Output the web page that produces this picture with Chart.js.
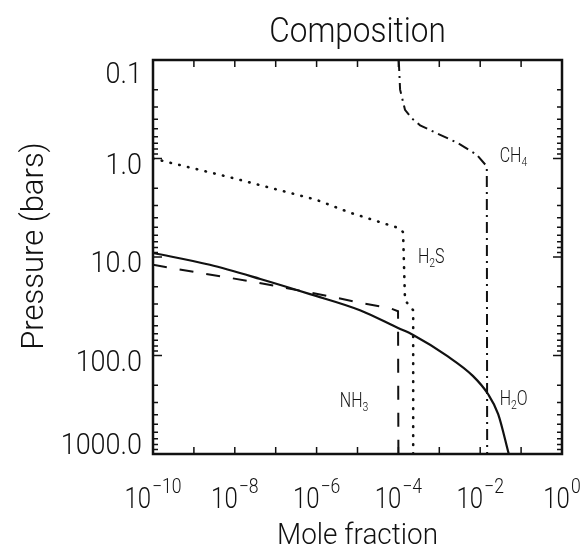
<!DOCTYPE html>
<html>
<head>
<meta charset="utf-8">
<script src="https://cdn.jsdelivr.net/npm/chart.js@4/dist/chart.umd.min.js"></script>
<style>
  html, body { margin: 0; padding: 0; background: #fff; }
  #chart { display: block; }
</style>
</head>
<body>
<canvas id="chart" width="581" height="551"></canvas>
<script>
// --- Data (mole fraction vs pressure in bars) ---
const h2oX = [1e-10, 2.45e-9, 4.2e-8, 6.9e-7, 1.15e-5, 9.8e-5, 2.3e-4, 1.55e-3, 6.6e-3, 1.55e-2, 2.75e-2, 5.0e-2];
const h2oP = [9.1, 12.0, 16.7, 23.8, 34.7, 52.6, 61.9, 101, 161, 246, 393, 1000];

const nh3X = [1e-10, 1.4e-9, 2.75e-8, 2.1e-6, 9.8e-6, 6.2e-5, 9.8e-5, 1.0e-4];
const nh3P = [12.0, 14.5, 17.8, 25.1, 28.8, 33.1, 35.5, 1000];

const h2sX = [1e-10, 9.1e-9, 1.0e-6, 6.6e-6, 1.1e-4, 1.3e-4, 1.45e-4, 2.3e-4, 2.3e-4];
const h2sP = [1.0, 1.58, 2.63, 3.55, 5.13, 5.6, 27.5, 34.7, 1000];

const ch4X = [1.02e-4, 1.1e-4, 1.45e-4, 2.1e-4, 3.4e-4, 1.05e-3, 2.7e-3, 8.1e-3, 1.45e-2, 1.48e-2];
const ch4P = [0.1, 0.2, 0.32, 0.39, 0.46, 0.575, 0.69, 0.91, 1.2, 1000];

// species labels: [main, subscript, tail, x, p]
const speciesLabels = [
  ['CH', '4', '', 3.0e-2, 1.08],
  ['H', '2', 'S', 3.0e-4, 11.5],
  ['NH', '3', '', 3.7e-6, 330],
  ['H', '2', 'O', 3.0e-2, 316]
];

const xTickExps = [-10, -8, -6, -4, -2, 0];
const yTickValues = [0.1, 1, 10, 100, 1000];
const yTickLabels = ['0.1', '1.0', '10.0', '100.0', '1000.0'];

const FONT = 'Roboto, "Liberation Sans", Arial, sans-serif';
const WEIGHT = '300 ';

function pts(xs, ps) {
  return xs.map((x, i) => ({ x: x, y: ps[i] }));
}

// draw text with horizontal squeeze
function txt(ctx, s, x, y, size, sx, align) {
  ctx.save();
  ctx.translate(x, y);
  ctx.scale(sx, 1);
  ctx.font = WEIGHT + size + 'px ' + FONT;
  ctx.textAlign = align || 'left';
  ctx.textBaseline = 'alphabetic';
  ctx.fillText(s, 0, 0);
  ctx.restore();
}

function textWidth(ctx, s, size, sx) {
  ctx.font = WEIGHT + size + 'px ' + FONT;
  return ctx.measureText(s).width * sx;
}

const decorPlugin = {
  id: 'decor',
  afterDraw(chart) {
    const ctx = chart.ctx;
    const a = chart.chartArea;
    const xs = chart.scales.x, ys = chart.scales.y;
    ctx.save();
    ctx.fillStyle = '#111';
    ctx.strokeStyle = '#111';

    // frame
    ctx.lineWidth = 2.5;
    ctx.strokeRect(a.left, a.top, a.right - a.left, a.bottom - a.top);

    // x ticks, every decade, top and bottom, pointing inward
    ctx.lineWidth = 1.5;
    for (let e = -10; e <= 0; e++) {
      const px = xs.getPixelForValue(Math.pow(10, e));
      ctx.beginPath();
      ctx.moveTo(px, a.bottom); ctx.lineTo(px, a.bottom - 7);
      ctx.moveTo(px, a.top); ctx.lineTo(px, a.top + 7);
      ctx.stroke();
    }
    // y ticks, decades and minors, left and right
    for (let e = -1; e <= 3; e++) {
      for (let m = 1; m <= 9; m++) {
        const v = m * Math.pow(10, e);
        if (v > 1000) break;
        const py = ys.getPixelForValue(v);
        const len = m === 1 ? 9 : 5;
        ctx.beginPath();
        ctx.moveTo(a.left, py); ctx.lineTo(a.left + len, py);
        ctx.moveTo(a.right, py); ctx.lineTo(a.right - len, py);
        ctx.stroke();
      }
    }

    // y tick labels
    yTickValues.forEach((v, i) => {
      let cy = ys.getPixelForValue(v) + 4;
      cy = Math.max(a.top + 12, Math.min(a.bottom - 11, cy));
      txt(ctx, yTickLabels[i], 142, cy + 11, 30, 0.9, 'right');
    });

    // x tick labels: 10 with superscript exponent, whole label centered on tick
    xTickExps.forEach(e => {
      const px = xs.getPixelForValue(Math.pow(10, e));
      const base = '10';
      const exp = e === 0 ? '0' : '\u2212' + Math.abs(e);
      const wb = textWidth(ctx, base, 30, 0.8);
      const we = textWidth(ctx, exp, 20, 0.88);
      const x0 = px - (wb + we + 1) / 2;
      txt(ctx, base, x0, 508, 30, 0.8, 'left');
      txt(ctx, exp, x0 + wb + 1, 493, 20, 0.88, 'left');
    });

    // species labels with subscripts
    speciesLabels.forEach(l => {
      const px = xs.getPixelForValue(l[3]);
      const py = ys.getPixelForValue(l[4]);
      const w1 = textWidth(ctx, l[0], 20, 0.8);
      const w2 = textWidth(ctx, l[1], 13, 0.8);
      txt(ctx, l[0], px, py, 20, 0.8, 'left');
      txt(ctx, l[1], px + w1, py + 4, 13, 0.8, 'left');
      if (l[2]) txt(ctx, l[2], px + w1 + w2, py, 20, 0.8, 'left');
    });

    // titles
    const cx = (a.left + a.right) / 2;
    txt(ctx, 'Composition', cx, 42, 35, 0.9, 'center');
    txt(ctx, 'Mole fraction', cx, 544, 30, 0.93, 'center');
    ctx.save();
    ctx.translate(43, 246);
    ctx.rotate(-Math.PI / 2);
    txt(ctx, 'Pressure (bars)', 0, 0, 31, 1.0, 'center');
    ctx.restore();

    ctx.restore();
  }
};

const baseLine = {
  borderColor: '#111',
  borderWidth: 2,
  pointRadius: 0,
  fill: false,
  tension: 0
};

new Chart(document.getElementById('chart').getContext('2d'), {
  type: 'line',
  data: {
    datasets: [
      Object.assign({}, baseLine, { label: 'H2O', data: pts(h2oX, h2oP), borderWidth: 2.2, cubicInterpolationMode: 'monotone' }),
      Object.assign({}, baseLine, { label: 'NH3', data: pts(nh3X, nh3P), borderDash: [14, 13] }),
      Object.assign({}, baseLine, { label: 'H2S', data: pts(h2sX, h2sP), borderWidth: 2.6, borderCapStyle: 'round', borderDash: [0.5, 8.5] }),
      Object.assign({}, baseLine, { label: 'CH4', data: pts(ch4X, ch4P), borderDash: [11, 5, 2, 5] })
    ]
  },
  options: {
    responsive: false,
    animation: false,
    devicePixelRatio: 1,
    layout: { padding: { left: 153, right: 19, top: 60, bottom: 97 } },
    plugins: { legend: { display: false }, tooltip: { enabled: false }, title: { display: false } },
    scales: {
      x: { type: 'logarithmic', min: 1e-10, max: 1, display: false },
      y: { type: 'logarithmic', min: 0.1, max: 1000, reverse: true, display: false }
    }
  },
  plugins: [decorPlugin]
});
</script>
</body>
</html>
